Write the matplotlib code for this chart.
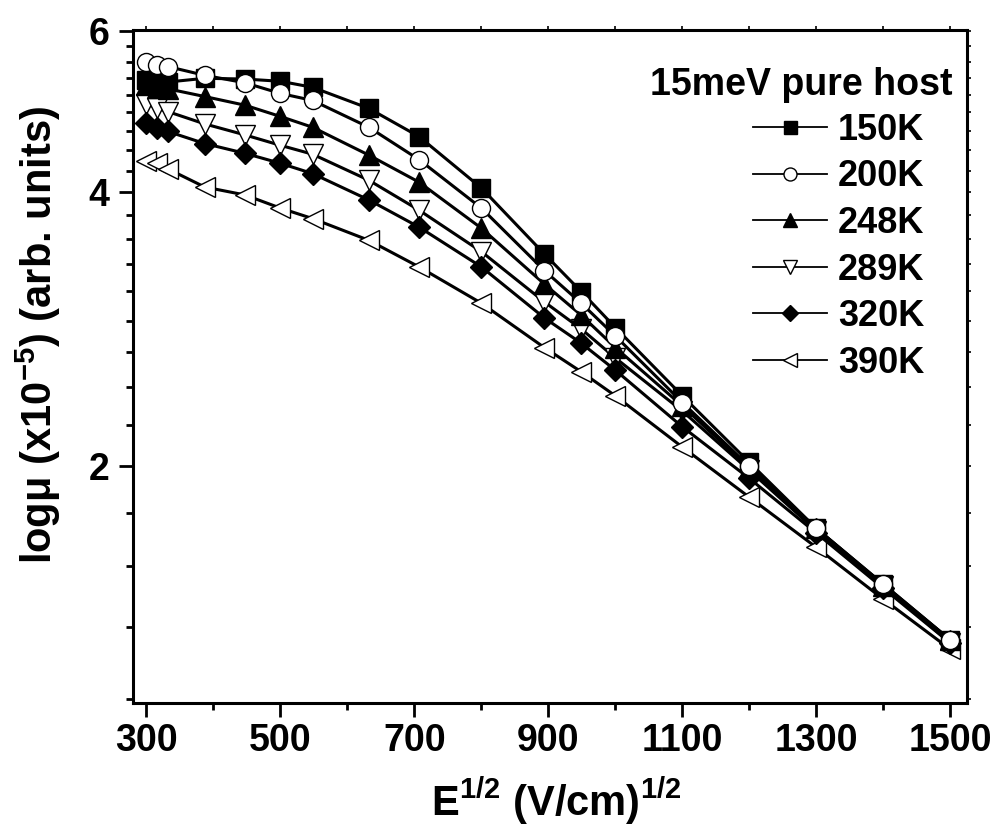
import numpy as np
import matplotlib
matplotlib.use('Agg')
import matplotlib.pyplot as plt
from matplotlib.ticker import FixedLocator, NullFormatter, FixedFormatter

plt.rcParams['font.family'] = ['Liberation Sans', 'DejaVu Sans']
plt.rcParams['font.weight'] = 'bold'
plt.rcParams['mathtext.fontset'] = 'custom'
plt.rcParams['mathtext.rm'] = 'Liberation Sans:bold'
plt.rcParams['mathtext.it'] = 'Liberation Sans:bold'
plt.rcParams['mathtext.bf'] = 'Liberation Sans:bold'

# E^1/2 values (V/cm)^1/2
e_sqrt = [300, 316, 332, 387, 447, 500, 548, 632, 707, 800, 894, 949, 1000, 1100, 1200, 1300, 1400, 1500]

mu_150K = [5.31, 5.28, 5.28, 5.33, 5.32, 5.29, 5.21, 4.94, 4.60, 4.04, 3.42, 3.11, 2.84, 2.39, 2.02, 1.71, 1.485, 1.29]
mu_200K = [5.56, 5.51, 5.49, 5.37, 5.27, 5.13, 5.04, 4.71, 4.34, 3.84, 3.28, 3.02, 2.78, 2.35, 2.00, 1.71, 1.485, 1.29]
mu_248K = [5.24, 5.20, 5.19, 5.09, 4.98, 4.84, 4.71, 4.39, 4.10, 3.65, 3.17, 2.93, 2.70, 2.33, 1.99, 1.71, 1.48, 1.29]
mu_289K = [5.00, 4.94, 4.90, 4.75, 4.62, 4.50, 4.40, 4.12, 3.82, 3.44, 3.03, 2.83, 2.63, 2.30, 1.98, 1.70, 1.48, 1.28]
mu_320K = [4.76, 4.70, 4.66, 4.52, 4.41, 4.30, 4.19, 3.92, 3.66, 3.31, 2.91, 2.73, 2.55, 2.21, 1.94, 1.69, 1.47, 1.28]
mu_390K = [4.32, 4.30, 4.24, 4.05, 3.97, 3.84, 3.74, 3.54, 3.31, 3.02, 2.70, 2.54, 2.39, 2.10, 1.85, 1.63, 1.43, 1.26]

labels = ['150K', '200K', '248K', '289K', '320K', '390K']
series = [mu_150K, mu_200K, mu_248K, mu_289K, mu_320K, mu_390K]
markers = ['s', 'o', '^', 'v', 'D', '<']
msizes = [13, 13, 14, 14, 11, 14]
filled = [True, False, True, False, True, False]
zorders = [5, 6, 4, 3, 4, 3]

fig = plt.figure(figsize=(9.98, 8.36), dpi=100)
ax = fig.add_axes([0.1333, 0.159, 0.8357, 0.805])

handles = []
for lab, ys, mk, ms, fl, zo in zip(labels, series, markers, msizes, filled, zorders):
    h, = ax.plot(e_sqrt, ys, color='black', lw=2.2, marker=mk, ms=ms,
                 mfc='black' if fl else 'white', mec='black', mew=1.0,
                 label=lab, zorder=zo, clip_on=False)
    handles.append(h)

ax.set_yscale('log')
ax.set_xlim(280, 1525)
ax.set_ylim(1.1, 6.02)

ax.xaxis.set_major_locator(FixedLocator(np.arange(300, 1501, 200)))
ax.xaxis.set_minor_locator(FixedLocator(np.arange(400, 1401, 200)))
ax.yaxis.set_major_locator(FixedLocator([2, 4, 6]))
ax.yaxis.set_major_formatter(FixedFormatter(['2', '4', '6']))
minor_y = [k * 2 / 9 for k in range(5, 28) if k % 9 != 0]
ax.yaxis.set_minor_locator(FixedLocator(minor_y))
ax.yaxis.set_minor_formatter(NullFormatter())

for s in ax.spines.values():
    s.set_linewidth(2.2)

ax.tick_params(axis='x', which='major', length=10, width=2, labelsize=27, pad=4)
ax.tick_params(axis='x', which='minor', length=5, width=2)
ax.tick_params(axis='y', which='major', length=10, width=2, labelsize=27, pad=7)
ax.tick_params(axis='y', which='minor', length=5, width=2)
for t in ax.get_xticklabels() + ax.get_yticklabels():
    t.set_fontweight('bold')

# small ticks on top and right
top = ax.secondary_xaxis('top')
top.set_xticks(np.arange(300, 1501, 100))
top.set_xticklabels([])
top.tick_params(length=3, width=1.2)
right = ax.secondary_yaxis('right')
right.yaxis.set_major_locator(FixedLocator([2, 4, 6]))
right.yaxis.set_minor_locator(FixedLocator(minor_y))
right.yaxis.set_major_formatter(NullFormatter())
right.yaxis.set_minor_formatter(NullFormatter())
right.tick_params(which='both', length=3, width=1.2)

ax.set_xlabel(r'E$^{1/2}$ (V/cm)$^{1/2}$', fontsize=30, fontweight='bold')
ax.xaxis.set_label_coords(0.507, -0.108)
ax.set_ylabel(r'logμ (x10$^{-5}$) (arb. units)', fontsize=30, fontweight='bold')
ax.yaxis.set_label_coords(-0.084, 0.5475)

ax.text(0.982, 0.9034, '15meV pure host', transform=ax.transAxes,
        ha='right', va='baseline', fontsize=27, fontweight='bold')

leg = ax.legend(handles=handles, loc='upper left', bbox_to_anchor=(0.7434, 0.877),
                frameon=False, fontsize=26, borderpad=0, borderaxespad=0,
                handlelength=2.05, handletextpad=0.3, labelspacing=0.32,
                markerscale=0.72)
for ln in leg.get_lines():
    ln.set_linewidth(1.3)

fig.savefig('out.png', dpi=100)
